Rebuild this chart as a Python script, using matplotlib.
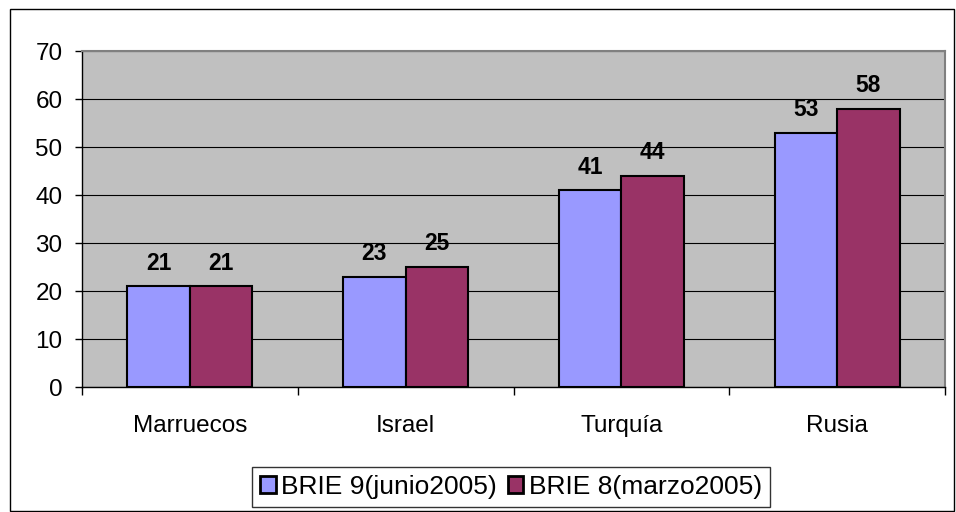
import matplotlib.pyplot as plt
import numpy as np
from matplotlib.patches import Rectangle

plt.rcParams['font.family'] = ['Liberation Sans', 'DejaVu Sans']

categories = ['Marruecos', 'Israel', 'Turquía', 'Rusia']
brie9 = [21, 23, 41, 53]
brie8 = [21, 25, 44, 58]
series_names = ['BRIE 9(junio2005)', 'BRIE 8(marzo2005)']

fig = plt.figure(figsize=(9.56, 5.12), dpi=100)
# outer chart border
fig.patches.append(Rectangle((10 / 956, 0.002), 944 / 956, 1 - 9 / 512 - 0.002,
                             transform=fig.transFigure, fill=False,
                             edgecolor='black', linewidth=1))

ax = fig.add_axes([82 / 956, 1 - 387 / 512, 863 / 956, 336 / 512])
ax.set_facecolor('#c0c0c0')

x = np.arange(len(categories))
w = 0.29
b1 = ax.bar(x - w / 2, brie9, w, color='#9999ff', edgecolor='black', linewidth=1.5,
            label=series_names[0], zorder=3)
b2 = ax.bar(x + w / 2, brie8, w, color='#993366', edgecolor='black', linewidth=1.5,
            label=series_names[1], zorder=3)

for bars in (b1, b2):
    for rect in bars:
        ax.text(rect.get_x() + rect.get_width() / 2, rect.get_height() + 2.4,
                f'{rect.get_height():.0f}', ha='center', va='bottom',
                fontsize=16.5, fontweight='bold')

ax.set_xlim(-0.5, len(categories) - 0.5)
ax.set_ylim(0, 70)
ax.set_yticks(range(0, 71, 10))
ax.yaxis.grid(True, color='black', linewidth=0.8, zorder=0)
ax.set_axisbelow(True)
ax.tick_params(axis='y', labelsize=17.5, length=5, width=1, pad=9, direction='out')

ax.set_xticks(x)
ax.set_xticklabels(categories, fontsize=17.5)
ax.set_xticks(np.arange(-0.5, len(categories), 1), minor=True)
ax.tick_params(axis='x', which='major', length=0, pad=20)
ax.tick_params(axis='x', which='minor', length=6, width=1, direction='out')

for side in ('top', 'right'):
    ax.spines[side].set_color('#808080')
    ax.spines[side].set_linewidth(1.5)
ax.spines['left'].set_linewidth(1)
ax.spines['bottom'].set_linewidth(1)

leg = fig.legend(loc='center', bbox_to_anchor=(511 / 956, 1 - 487 / 512), ncol=2,
                 fontsize=19, frameon=True, fancybox=False, edgecolor='black',
                 handlelength=0.6, handleheight=0.6, handletextpad=0.2,
                 columnspacing=0.4, borderpad=0.3)
leg.get_frame().set_linewidth(1)
for h in leg.legend_handles:
    h.set_linewidth(2)

fig.savefig('out.png', dpi=100)
